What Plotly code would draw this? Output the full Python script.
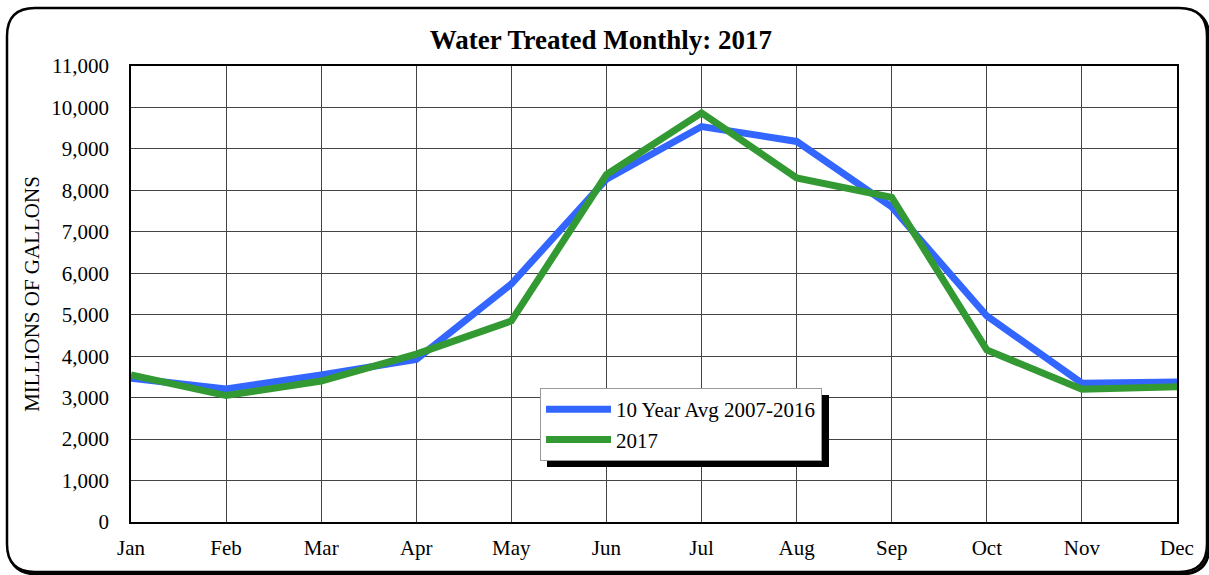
import plotly.graph_objects as go

months = ["Jan", "Feb", "Mar", "Apr", "May", "Jun", "Jul", "Aug", "Sep", "Oct", "Nov", "Dec"]
avg_10yr = [3470, 3210, 3550, 3920, 5740, 8270, 9540, 9180, 7600, 4970, 3350, 3380]
y2017 = [3550, 3050, 3400, 4050, 4850, 8380, 9870, 8300, 7830, 4150, 3200, 3260]
yticks = list(range(0, 11001, 1000))
ylabels = [f"{v:,}" for v in yticks]

W, H = 1209, 575
L, R, T, B = 131, 1177, 66, 522
FONT = "Liberation Serif"

def px(x):
    return (x - L) / (R - L)

def py(y):
    return (B - y) / (B - T)

xs = list(range(len(months)))

fig = go.Figure()
fig.add_trace(go.Scatter(x=xs, y=avg_10yr, mode="lines", name="10 Year Avg 2007-2016",
                         line=dict(color="#3366FF", width=7)))
fig.add_trace(go.Scatter(x=xs, y=y2017, mode="lines", name="2017",
                         line=dict(color="#339933", width=7)))

def rounded(x0, y0, x1, y1, r):
    p = []
    p.append(f"M {px(x0 + r)} {py(y0)}")
    p.append(f"L {px(x1 - r)} {py(y0)}")
    p.append(f"Q {px(x1)} {py(y0)} {px(x1)} {py(y0 + r)}")
    p.append(f"L {px(x1)} {py(y1 - r)}")
    p.append(f"Q {px(x1)} {py(y1)} {px(x1 - r)} {py(y1)}")
    p.append(f"L {px(x0 + r)} {py(y1)}")
    p.append(f"Q {px(x0)} {py(y1)} {px(x0)} {py(y1 - r)}")
    p.append(f"L {px(x0)} {py(y0 + r)}")
    p.append(f"Q {px(x0)} {py(y0)} {px(x0 + r)} {py(y0)}")
    p.append("Z")
    return " ".join(p)

shapes = [
    # outer frame shadow
    dict(type="path", xref="paper", yref="paper", path=rounded(9, 10, 1209, 574, 28),
         line=dict(color="black", width=3), layer="below"),
    # outer frame
    dict(type="path", xref="paper", yref="paper", path=rounded(7, 8, 1207, 572, 28),
         line=dict(color="black", width=2.5), fillcolor="white", layer="below"),
    # legend shadow
    dict(type="rect", xref="paper", yref="paper", x0=px(547), x1=px(829), y0=py(395), y1=py(467),
         line=dict(width=0), fillcolor="black", layer="above"),
]

fig.update_layout(
    width=W, height=H,
    margin=dict(l=L, r=W - R, t=T, b=H - B),
    paper_bgcolor="white",
    plot_bgcolor="white",
    font=dict(family=FONT, size=21, color="black"),
    title=dict(text="<b>Water Treated Monthly: 2017</b>", x=0.497, xref="container",
               y=1 - 40 / H, yanchor="middle", font=dict(family=FONT, size=27, color="black")),
    xaxis=dict(range=[0, 11], tickvals=xs, ticktext=months, showgrid=True,
               gridcolor="#444", gridwidth=1, zeroline=False, showline=True, linecolor="black",
               linewidth=1.5, mirror=True, ticks="", ticklabelstandoff=6,
               tickfont=dict(family=FONT, size=21)),
    yaxis=dict(range=[0, 11000], tickvals=yticks, ticktext=ylabels, showgrid=True,
               gridcolor="#444", gridwidth=1, zeroline=False, showline=True, linecolor="black",
               linewidth=1.5, mirror=True, ticks="", ticklabelstandoff=16,
               title=dict(text="MILLIONS OF GALLONS", font=dict(family=FONT, size=21), standoff=6),
               tickfont=dict(family=FONT, size=21)),
    legend=dict(x=px(540), y=py(388), xanchor="left", yanchor="top", bgcolor="white",
                bordercolor="#999", borderwidth=1, font=dict(family=FONT, size=21),
                tracegroupgap=0, itemwidth=65),
    shapes=shapes,
    showlegend=True,
)

fig.write_html("out.html", config={"displayModeBar": False},
               post_script="document.body.style.margin='0px';")
